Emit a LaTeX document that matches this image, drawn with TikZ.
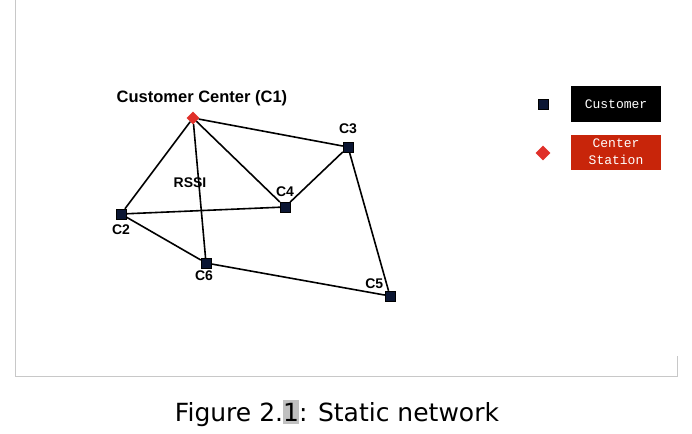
\documentclass[tikz,border=0pt]{standalone}
\usepackage{fontspec}
\setmainfont{Liberation Sans}
\newfontfamily\legendfont{Liberation Mono}
\newfontfamily\capfont{DejaVu Sans}
\usetikzlibrary{shapes.geometric}
\definecolor{nodeblue}{HTML}{0B1633}
\definecolor{centerred}{HTML}{E0302A}
\definecolor{boxred}{HTML}{C8250A}
\definecolor{framegray}{HTML}{C8C8C8}
\definecolor{hlgray}{HTML}{C0C0C0}

\begin{document}
\begin{tikzpicture}[x=1pt,y=-1pt,
	customer/.style={draw=black,fill=nodeblue,minimum size=10pt,inner sep=0pt,line width=0.4pt},
	center/.style={diamond,fill=centerred,minimum size=13pt,inner sep=0pt},
	lbl/.style={font=\fontsize{14}{14}\selectfont\bfseries},
	link/.style={line width=1.6pt},
	legendbox/.style={minimum width=90pt,minimum height=35pt,inner sep=0pt,text=white,align=center,font=\legendfont\fontsize{13}{17}\selectfont}]
	\useasboundingbox (0,0) rectangle (692,433);
	\draw[framegray] (15,0) -- (15,376) -- (677,376) -- (677,356);
	\node[center] (c1) at (193,118) {};
	\node[customer,label={[lbl,yshift=5pt]above:C3}] (c3) at (348,147) {};
	\node[customer,label={[lbl,yshift=2pt]above:C4}] (c4) at (285,207) {};
	\node[customer,label={[lbl,yshift=-2pt]below:C2}] (c2) at (121,214) {};
	\node[customer,label={[lbl,yshift=1pt,xshift=-2pt]below:C6}] (c6) at (206,263) {};
	\node[customer,label={[lbl,xshift=2pt,yshift=-1pt]above left:C5}] (c5) at (390,296) {};
	\node[lbl,font=\fontsize{16.5}{17}\selectfont\bfseries] (title) at (202,98) {Customer Center (C1)};
	\node[lbl] (rssi) at (190,183) {RSSI};
	\draw[link] (c1) -- (c2);
	\draw[link] (c1) -- (c6);
	\draw[link] (c1) -- (c4);
	\draw[link] (c1) -- (c3);
	\draw[link] (c3) -- (c4);
	\draw[link] (c4) -- (c2);
	\draw[link] (c2) -- (c6);
	\draw[link] (c6) -- (c5);
	\draw[link] (c3) -- (c5);
	\node[customer] (keycust) at (543,104) {};
	\node[center,minimum size=15pt] (keycenter) at (543,153) {};
	\node[legendbox,fill=black] (custbox) at (616,104) {Customer};
	\node[legendbox,fill=boxred] (centerbox) at (616,152) {Center\\Station};
	\node[font=\capfont\fontsize{25}{25}\selectfont] (caption) at (337,413) {Figure 2.\colorbox{hlgray}{\kern-\fboxsep 1\kern-\fboxsep}: Static network};
\end{tikzpicture}
\end{document}
